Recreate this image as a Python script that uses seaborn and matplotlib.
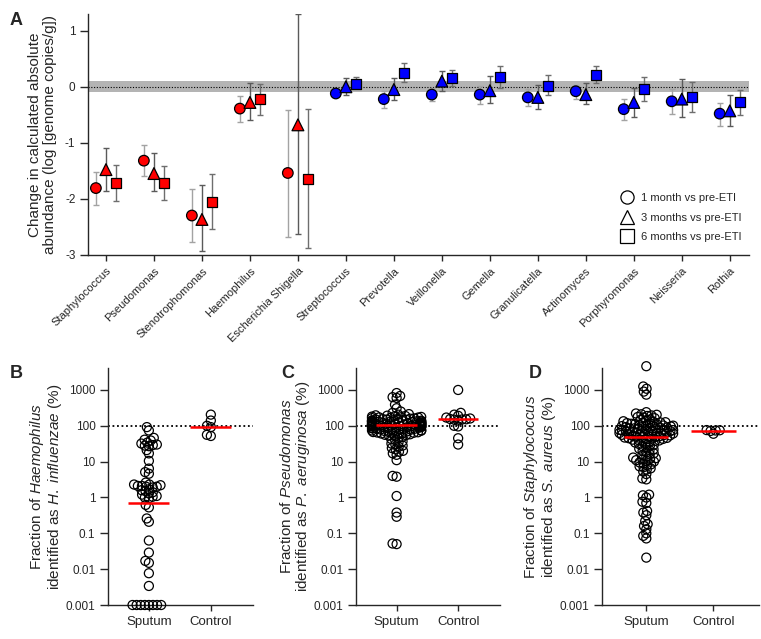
# Change in absolute abundance after ETI (A) and species fraction swarms (B-D)
import numpy as np
import pandas as pd
import matplotlib
matplotlib.use("Agg")
import matplotlib.pyplot as plt
from matplotlib.lines import Line2D
from matplotlib.ticker import NullLocator
import seaborn as sns

# ------------------------------
# DATA
# ------------------------------
genera = ["Staphylococcus", "Pseudomonas", "Stenotrophomonas", "Haemophilus",
          "Escherichia Shigella", "Streptococcus", "Prevotella", "Veillonella",
          "Gemella", "Granulicatella", "Actinomyces", "Porphyromonas",
          "Neisseria", "Rothia"]
genus_group = ["red"] * 5 + ["blue"] * 9

timepoints = ["1 month vs pre-ETI", "3 months vs pre-ETI", "6 months vs pre-ETI"]

change_1m = [-1.81, -1.32, -2.30, -0.39, -1.54, -0.12, -0.22, -0.14, -0.14, -0.19, -0.08, -0.40, -0.26, -0.48]
low_1m = [-2.11, -1.60, -2.78, -0.63, -2.68, -0.17, -0.38, -0.26, -0.30, -0.34, -0.21, -0.59, -0.49, -0.70]
high_1m = [-1.52, -1.04, -1.82, -0.17, -0.41, -0.07, -0.08, -0.02, 0.01, -0.04, 0.04, -0.21, -0.04, -0.29]

change_3m = [-1.48, -1.55, -2.37, -0.28, -0.68, 0.00, -0.05, 0.10, -0.07, -0.19, -0.14, -0.28, -0.22, -0.43]
low_3m = [-1.87, -1.87, -2.93, -0.59, -2.63, -0.14, -0.23, -0.08, -0.29, -0.39, -0.30, -0.54, -0.54, -0.70]
high_3m = [-1.10, -1.19, -1.76, 0.07, 1.30, 0.15, 0.15, 0.29, 0.19, 0.04, 0.07, -0.02, 0.14, -0.14]

change_6m = [-1.72, -1.72, -2.05, -0.22, -1.64, 0.05, 0.25, 0.15, 0.17, 0.02, 0.21, -0.04, -0.19, -0.28]
low_6m = [-2.04, -2.02, -2.54, -0.50, -2.88, -0.02, 0.08, 0.01, -0.02, -0.15, 0.07, -0.26, -0.45, -0.51]
high_6m = [-1.40, -1.42, -1.55, 0.05, -0.39, 0.17, 0.42, 0.30, 0.37, 0.21, 0.37, 0.17, 0.08, -0.05]

# fraction (%) of genus reads identified as the species
b_sputum = [92, 74, 46, 41, 39, 34, 32, 30, 29, 28, 27, 21, 17, 10.5, 6.4, 5.1, 4.6,
            2.6, 2.3, 2.3, 2.2, 2.1, 2.1, 2.0, 2.0, 1.9, 1.7, 1.6, 1.5, 1.4, 1.3, 1.2,
            1.1, 1.05, 1.0, 0.95, 0.62, 0.53, 0.26, 0.21, 0.063, 0.029, 0.017, 0.015,
            0.0077, 0.0034, 0.001, 0.001, 0.001, 0.001, 0.001, 0.001, 0.001, 0.001]
b_control = [140, 52, 92, 205, 100, 56]
b_median = [0.68, 95]

c_sputum = [820, 680, 630, 600, 390, 310, 250, 230,
            212, 205, 196, 192, 188, 185, 181, 177, 174, 172, 170, 167, 164, 161,
            158, 157, 154, 151, 148, 147, 144, 141, 139, 137, 136, 134, 133, 131,
            130, 129, 127, 125, 124, 123, 122, 120, 118, 117, 116, 115, 114, 113,
            112, 111, 110, 109, 108, 107, 106, 105, 104, 103, 102, 101, 100, 100,
            99, 98, 98, 97, 96, 94, 93, 92, 91, 89, 88, 87, 86, 85, 84, 83, 82, 80,
            79, 78, 77, 75, 74, 73, 72, 70, 69, 68, 67, 66, 65, 64, 63, 62, 61, 59,
            58, 56, 55, 53, 52,
            49, 46, 43, 40, 37, 35, 32, 30, 28, 26, 24, 22, 20, 19, 17, 15.5, 11,
            4.0, 3.8, 1.1, 0.38, 0.29, 0.052, 0.05]
c_control = [1000, 140, 190, 170, 230, 205, 150, 155, 160, 148, 152, 100, 96, 45, 30]
c_median = [105, 152]

d_sputum = [4600, 1250, 1080, 900, 740,
            240, 221, 210, 203, 195, 188, 176, 170, 163, 151, 146, 142, 134,
            128, 126, 124, 121, 119, 116, 114, 112, 109, 107, 104, 102, 101, 99, 98,
            96, 94, 92, 90, 89, 87, 85, 84, 83, 81, 80, 78, 77, 76, 74, 73, 72, 71,
            70, 69, 67, 66, 65, 64, 63, 62, 61, 60, 59, 58, 57, 56, 55, 54, 53, 52,
            51, 50, 49, 48, 47, 46, 45, 44, 43, 42, 41, 40, 39, 38, 37, 36,
            34, 32, 31, 30, 28, 27, 25, 23, 22, 21, 20, 18, 17, 16, 15, 14, 13, 12.5,
            12, 11.5, 11, 10.5, 10, 9.5, 9, 8.4, 8, 7.4, 7, 6.5, 6,
            5.3, 4.5, 3.4, 3.2, 1.2, 1.15, 1.0, 0.76, 0.7, 0.42, 0.38, 0.32, 0.22,
            0.18, 0.16, 0.13, 0.1, 0.085, 0.072, 0.021]
d_control = [72, 76, 74, 75, 60]
d_median = [50, 72]

frac_ticks = [0.001, 0.01, 0.1, 1, 10, 100, 1000]
frac_tick_labels = ["0.001", "0.01", "0.1", "1", "10", "100", "1000"]

# ------------------------------
# STYLE
# ------------------------------
sns.set_style("ticks")
plt.rcParams["font.family"] = ["Liberation Sans", "DejaVu Sans"]
plt.rcParams["mathtext.fontset"] = "custom"
plt.rcParams["mathtext.rm"] = "Liberation Sans"
plt.rcParams["mathtext.it"] = "Liberation Sans:italic"
plt.rcParams["axes.unicode_minus"] = False
plt.rcParams["axes.linewidth"] = 1.0
plt.rcParams["xtick.major.width"] = 1.0
plt.rcParams["ytick.major.width"] = 1.0

fig = plt.figure(figsize=(7.61, 6.39), dpi=100)

# ------------------------------
# PANEL A
# ------------------------------
axA = fig.add_axes([0.1156, 0.6014, 0.8686, 0.3767])

rows = []
series = [(change_1m, low_1m, high_1m), (change_3m, low_3m, high_3m), (change_6m, low_6m, high_6m)]
for tp, (vals, lows, highs) in zip(timepoints, series):
    for i, g in enumerate(genera):
        rows.append({"genus": g, "idx": i, "time": tp, "value": vals[i],
                     "low": lows[i], "high": highs[i], "group": genus_group[i]})
dfA = pd.DataFrame(rows)

offsets = [-0.21, 0.0, 0.21]
markers = ["o", "^", "s"]
sizes = [58, 72, 52]
err_colors = ["#a3a3a3", "#5a5a5a", "#6e6e6e"]
palette = {"red": "#ff0000", "blue": "#0000ff"}

axA.axhspan(-0.1, 0.1, color="#b4b4b4", lw=0, zorder=0)
axA.axhline(0, color="black", ls=(0, (1, 1.5)), lw=0.8, zorder=1)

for k, tp in enumerate(timepoints):
    sub = dfA[dfA["time"] == tp].copy()
    sub["x"] = sub["idx"] + offsets[k]
    axA.errorbar(sub["x"], sub["value"],
                 yerr=[sub["value"] - sub["low"], sub["high"] - sub["value"]],
                 fmt="none", ecolor=err_colors[k], elinewidth=1.0,
                 capsize=2.0, capthick=1.0, zorder=2)
    sns.scatterplot(data=sub, x="x", y="value", hue="group", palette=palette,
                    marker=markers[k], s=sizes[k], edgecolor="black",
                    linewidth=0.9, legend=False, ax=axA, zorder=3)

axA.set_xlim(-0.375, 13.4)
axA.set_ylim(-3, 1.3)
axA.set_xticks(range(len(genera)))
axA.set_xticklabels(genera, rotation=45, ha="right", va="top",
                    rotation_mode="anchor", fontsize=8)
axA.set_yticks([1, 0, -1, -2, -3])
axA.tick_params(axis="y", labelsize=8.5, length=5.5)
axA.tick_params(axis="x", length=4.5)
axA.set_xlabel("")
axA.set_ylabel("Change in calculated absolute\nabundance (log [genome copies/g])",
               fontsize=11, linespacing=1.05, labelpad=6)
sns.despine(ax=axA)

handles = [Line2D([], [], marker=m, ls="none", mfc="white", mec="black",
                  mew=0.9, markersize=9.5) for m in markers]
axA.legend(handles, timepoints, loc="lower right", bbox_to_anchor=(1.0, 0.02),
           frameon=False, fontsize=8, handlelength=1.0, handletextpad=0.7,
           labelspacing=0.85, borderaxespad=0.3)

fig.text(0.013, 0.968, "A", fontsize=13, fontweight="heavy", va="center")

# ------------------------------
# PANELS B-D
# ------------------------------
panel_specs = [
    ("B", [0.1419, 0.0532, 0.1905, 0.3709], b_sputum, b_control, b_median,
     "Fraction of $\\it{Haemophilus}$\nidentified as $\\it{H.\\ influenzae}$ (%)", 0.013),
    ("C", [0.4678, 0.0532, 0.1892, 0.3709], c_sputum, c_control, c_median,
     "Fraction of $\\it{Pseudomonas}$\nidentified as $\\it{P.\\ aeruginosa}$ (%)", 0.370),
    ("D", [0.7911, 0.0532, 0.2063, 0.3709], d_sputum, d_control, d_median,
     "Fraction of $\\it{Staphylococcus}$\nidentified as $\\it{S.\\ aureus}$ (%)", 0.695),
]

swarm_axes = []
for letter, rect, sputum, control, medians, ylabel, lx in panel_specs:
    ax = fig.add_axes(rect)
    df = pd.DataFrame({"sample": ["Sputum"] * len(sputum) + ["Control"] * len(control),
                       "fraction": sputum + control})
    sns.swarmplot(data=df, x="sample", y="fraction", order=["Sputum", "Control"],
                  color="black", size=2.8, linewidth=0, log_scale=True,
                  warn_thresh=1.0, ax=ax)
    swarm_colls = list(ax.collections)

    ax.axhline(100, color="black", ls=(0, (1, 1.5)), lw=1.3, zorder=1)
    ax.hlines(medians, [i - 0.33 for i in range(2)], [i + 0.33 for i in range(2)],
              color="#ff0000", lw=1.8, zorder=5)

    ax.set_xlim(-0.66, 1.68)
    ax.set_ylim(1e-3, 4100)
    ax.set_yticks(frac_ticks)
    ax.set_yticklabels(frac_tick_labels)
    ax.yaxis.set_minor_locator(NullLocator())
    ax.tick_params(axis="y", labelsize=8.5, length=5.5)
    ax.tick_params(axis="x", labelsize=9.5, length=4.5)
    ax.set_xlabel("")
    ax.set_ylabel(ylabel, fontsize=11, linespacing=1.05, labelpad=1)
    sns.despine(ax=ax)
    fig.text(lx, 0.415, letter, fontsize=13, fontweight="heavy", va="center")
    swarm_axes.append(swarm_colls)

# lay the swarms out with a small marker, then draw the open circles larger
# so they overlap like the original dot plots
fig.canvas.draw()
for colls in swarm_axes:
    for coll in colls:
        if "draw" in coll.__dict__:
            del coll.draw
        coll.set_sizes([6.5 ** 2])
        coll.set_facecolor("none")
        coll.set_edgecolor("black")
        coll.set_linewidth(0.9)
        coll.set_clip_on(False)
        coll.set_zorder(3)

fig.savefig("out.png", dpi=100)
